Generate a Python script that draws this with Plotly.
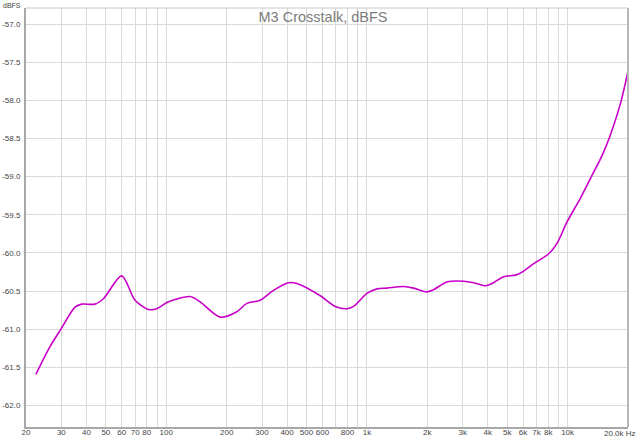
import plotly.graph_objects as go

# Data (frequency in Hz, level in dBFS)
freq_hz = [22.4, 26.3, 29.8, 35.1, 37.9, 44.2, 48.6, 60.0, 69.9, 81.5, 89.7, 102.5,
           131.5, 147.5, 185.6, 224.8, 252.2, 293.8, 342.4, 406.6, 447.8, 585.4,
           695, 795, 858, 1000, 1122, 1259, 1523, 1709, 1993, 2150, 2508, 3035,
           3404, 3894, 4204, 4804, 5496, 5934, 6780, 8054, 8872, 9952, 11592,
           13256, 14870, 16358, 18352, 19954]
level_dbfs = [-61.59, -61.23, -61.00, -60.71, -60.67, -60.67, -60.60, -60.30, -60.62,
              -60.74, -60.73, -60.64, -60.57, -60.64, -60.84, -60.77, -60.66, -60.62,
              -60.49, -60.39, -60.40, -60.56, -60.70, -60.73, -60.70, -60.53, -60.47,
              -60.46, -60.44, -60.46, -60.51, -60.48, -60.38, -60.37, -60.39, -60.43,
              -60.40, -60.31, -60.29, -60.25, -60.14, -60.01, -59.87, -59.59, -59.28,
              -58.98, -58.72, -58.45, -58.04, -57.63]

x_tick_vals = [20, 30, 40, 50, 60, 70, 80, 90, 100, 200, 300, 400, 500, 600, 700, 800, 900,
               1000, 2000, 3000, 4000, 5000, 6000, 7000, 8000, 9000, 10000, 20000]
x_tick_text = ["20", "30", "40", "50", "60", "70", "80", "", "100", "200", "300", "400",
               "500", "600", "", "800", "", "1k", "2k", "3k", "4k", "5k", "6k", "7k",
               "8k", "", "10k", ""]
y_tick_vals = [-57.0, -57.5, -58.0, -58.5, -59.0, -59.5, -60.0, -60.5, -61.0, -61.5, -62.0]
y_tick_text = ["%.1f" % v for v in y_tick_vals]

title_text = "M3 Crosstalk, dBFS"
y_unit = "dBFS"
x_last_label = "20.0k Hz"

fig = go.Figure()
fig.add_trace(go.Scatter(
    x=freq_hz, y=level_dbfs, mode="lines",
    line=dict(color="#c800c8", width=1.6, shape="spline", smoothing=0.8),
    hoverinfo="skip", showlegend=False,
))

tick_font = dict(family="Liberation Sans, Arial, sans-serif", size=8, color="#444444")

fig.update_layout(
    width=640, height=440,
    margin=dict(l=26, r=12, t=8, b=13, autoexpand=False),
    paper_bgcolor="white", plot_bgcolor="white",
    title=dict(text=title_text, xref="container", yref="container",
               x=(258 + 388) / 2 / 640, y=1 - 16.5 / 440, xanchor="center", yanchor="middle",
               font=dict(family="Liberation Sans, Arial, sans-serif", size=14.5,
                         color="#7c7c7c")),
    xaxis=dict(type="log", range=[1.30103, 4.30103],
               tickmode="array", tickvals=x_tick_vals, ticktext=x_tick_text,
               tickangle=0, automargin=False, ticklabelstandoff=-4,
               showgrid=True, gridcolor="#dadada", gridwidth=1,
               ticks="", tickfont=tick_font, zeroline=False,
               showline=True, linecolor="#a8a8a8", linewidth=2),
    yaxis=dict(range=[-62.28, -56.79], automargin=False, ticklabelstandoff=2,
               tickmode="array", tickvals=y_tick_vals, ticktext=y_tick_text,
               showgrid=True, gridcolor="#dadada", gridwidth=1,
               ticks="", tickfont=tick_font, zeroline=False,
               showline=True, linecolor="#a8a8a8", linewidth=2),
    shapes=[
        dict(type="line", xref="paper", yref="paper", x0=0, x1=1, y0=1, y1=1,
             line=dict(color="#c8c8c8", width=1)),
        dict(type="line", xref="paper", yref="paper", x0=1, x1=1, y0=0, y1=1,
             line=dict(color="#b8b8b8", width=2)),
    ],
    annotations=[
        dict(text=y_unit, xref="paper", yref="paper", x=0, y=1,
             xanchor="right", yanchor="bottom", xshift=-3, yshift=-3,
             showarrow=False, font=dict(family="Liberation Sans, Arial, sans-serif",
                                        size=7, color="#444444")),
        dict(text=x_last_label, xref="paper", yref="paper", x=1, y=0,
             xanchor="right", yanchor="top", xshift=10, yshift=0,
             showarrow=False, font=tick_font),
    ],
)

fig.write_html("out.html", config={"displayModeBar": False},
               post_script="document.body.style.margin='0';document.body.style.padding='0';")
